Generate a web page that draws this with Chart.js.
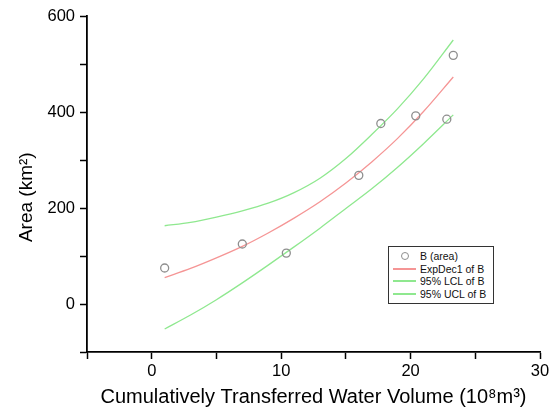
<!DOCTYPE html>
<html>
<head>
<meta charset="utf-8">
<script src="https://cdn.jsdelivr.net/npm/chart.js@4/dist/chart.umd.min.js"></script>
<style>
  body{margin:0;background:#fff}
  #wrap{position:relative;width:558px;height:409px}
  #legend{position:absolute;left:388px;top:246px;width:104px;height:53px;border:1px solid #333;background:#fff;
    font-family:Arial,"Liberation Sans",sans-serif;font-size:10.5px;color:#111;padding-top:3px;box-sizing:content-box}
  .lg-row{display:flex;align-items:center;height:12.5px}
  .lg-sym{width:31px;display:flex;justify-content:center;align-items:center;flex-shrink:0}
</style>
</head>
<body>
<div id="wrap">
  <canvas id="c" width="558" height="409"></canvas>
  <div id="legend"></div>
</div>
<script>
// ─── DATOS ────────────────────────────────────────────────────────────────────
const obsX = [1.0, 7.0, 10.4, 16.0, 17.7, 20.4, 22.8, 23.3];
const obsY = [75, 125, 106, 268, 376, 392, 385, 518];

const fitX = [1, 3, 5, 7, 9, 11, 13, 15, 17, 19, 21, 23.3];
const fitY = [55, 74, 96, 120, 148, 179, 213, 252, 296, 345, 401, 473];
const lclY = [-52, -23, 9, 44, 81, 119, 158, 199, 240, 285, 334, 394];
const uclY = [163, 170, 181, 194, 210, 232, 262, 303, 353, 407, 469, 550];

const xt = (xs, ys) => xs.map((x,i)=>({x, y:ys[i]}));
const FONT = 'Arial, "Liberation Sans", sans-serif';

const lineDs = (label, ys, color) => ({
  type:'line', label, data:xt(fitX, ys), borderColor:color, borderWidth:1.3,
  pointRadius:0, fill:false, cubicInterpolationMode:'monotone'
});

const chart = new Chart(document.getElementById('c'), {
  type:'scatter',
  data:{datasets:[
    {label:'B (area)', data:xt(obsX, obsY), pointRadius:4, pointBorderWidth:1.3,
      pointBorderColor:'#8e8e8e', pointBackgroundColor:'rgba(255,255,255,0)', order:0},
    {...lineDs('ExpDec1 of B', fitY, '#f59595'), order:1},
    {...lineDs('95% LCL of B', lclY, '#8fe88f'), order:2},
    {...lineDs('95% UCL of B', uclY, '#8fe88f'), order:3}
  ]},
  options:{
    responsive:false, animation:false,
    layout:{padding:{top:16, right:18, left:0, bottom:0}},
    plugins:{legend:{display:false}, tooltip:{enabled:false}},
    scales:{
      x:{
        type:'linear', min:-5, max:30,
        afterFit:s=>{ s.height = 57; },
        ticks:{stepSize:5, color:'#000', font:{family:FONT, size:16.5}, padding:3, maxRotation:0,
          callback:v=> v % 10 === 0 ? v : ''},
        grid:{drawOnChartArea:false, color:'#000', tickLength:7, tickWidth:1.5},
        border:{color:'#000', width:1.8},
        title:{display:true, text:'Cumulatively Transferred Water Volume (10⁸m³)', color:'#000',
          font:{family:FONT, size:20}, padding:{top:0, bottom:0}}
      },
      y:{
        min:-100, max:600,
        afterFit:s=>{ s.width = 87; },
        ticks:{stepSize:100, color:'#000', font:{family:FONT, size:16.5}, padding:5,
          callback:v=> (v % 200 === 0) ? v : ''},
        grid:{drawOnChartArea:false, color:'#000', tickLength:7, tickWidth:1.5},
        border:{color:'#000', width:1.8},
        title:{display:true, text:'Area (km²)     ', color:'#000',
          font:{family:FONT, size:19}, padding:{top:15, bottom:0}}
      }
    }
  }
});

// leyenda dentro del área del gráfico
document.getElementById('legend').innerHTML = chart.data.datasets.map(d=>{
  const sym = d.type === 'line'
    ? `<div style="width:23px;height:0;border-top:2px solid ${d.borderColor}"></div>`
    : `<div style="width:6px;height:6px;border:1.2px solid ${d.pointBorderColor};border-radius:50%"></div>`;
  return `<div class="lg-row"><div class="lg-sym">${sym}</div><div>${d.label}</div></div>`;
}).join('');
</script>
</body>
</html>
